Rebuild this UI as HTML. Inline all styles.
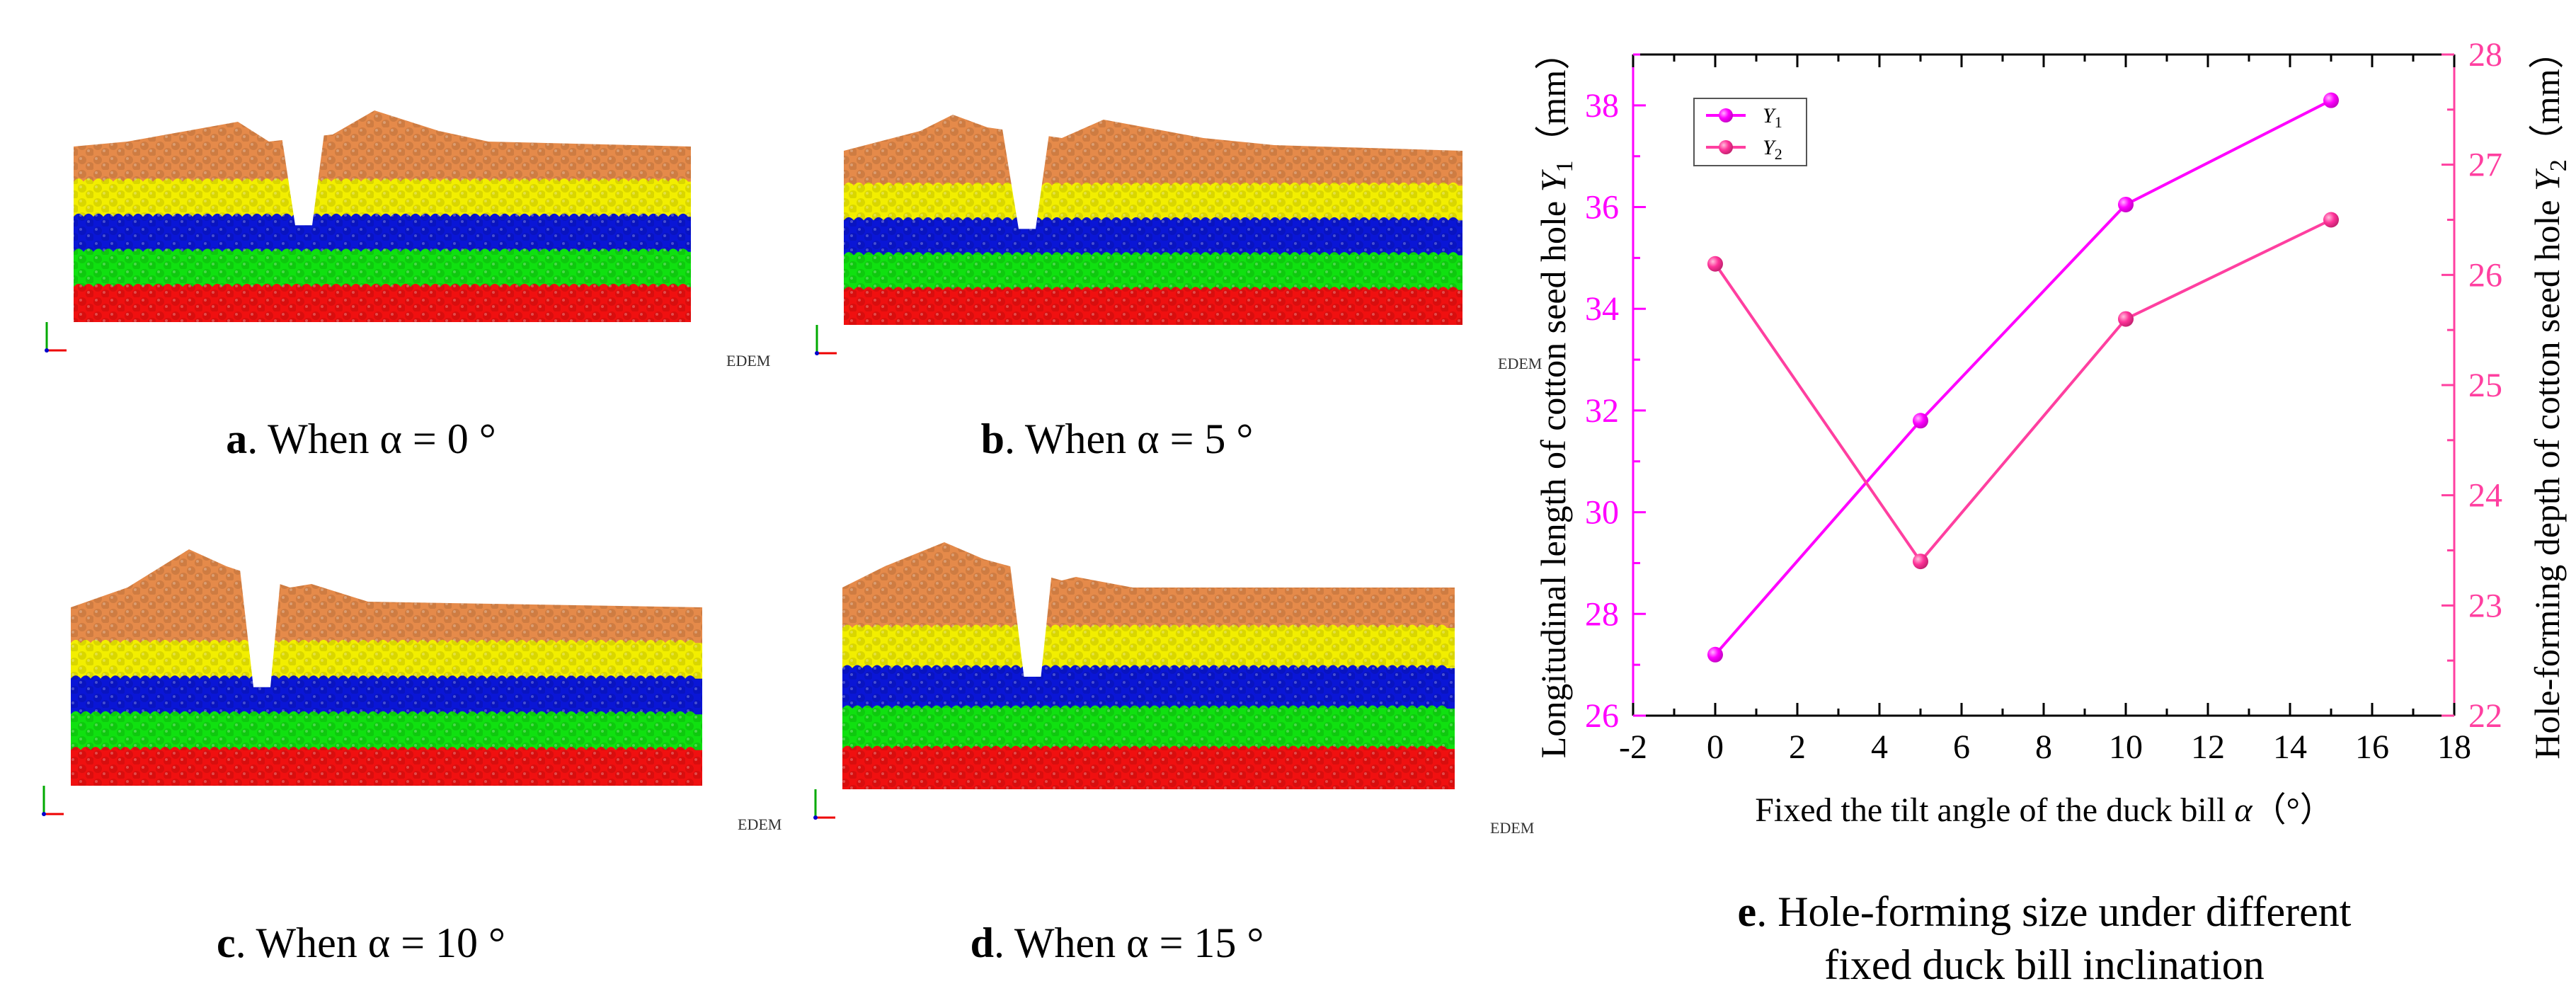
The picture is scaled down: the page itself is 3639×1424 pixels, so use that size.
<!DOCTYPE html>
<html><head><meta charset="utf-8"><style>
html,body{margin:0;padding:0;background:#fff;}
svg{display:block;font-family:"Liberation Serif",serif;}
svg text{font-family:"Liberation Serif",serif !important;}
</style></head><body>
<svg id="root" width="3639" height="1424" viewBox="0 0 3639 1424" xmlns="http://www.w3.org/2000/svg" font-family="Liberation Serif, serif">
<defs>
<pattern id="grain" width="22" height="20" patternUnits="userSpaceOnUse">
<circle cx="6" cy="6" r="6" fill="#000" opacity="0.10"/>
<circle cx="17" cy="15" r="6" fill="#000" opacity="0.10"/>
<circle cx="4" cy="4" r="2" fill="#fff" opacity="0.25"/>
<circle cx="15" cy="13" r="2" fill="#fff" opacity="0.25"/>
</pattern>
<radialGradient id="ball1" cx="0.35" cy="0.35" r="0.7"><stop offset="0" stop-color="#ffb3ff"/><stop offset="0.5" stop-color="#ff00ff"/><stop offset="1" stop-color="#c000c0"/></radialGradient>
<radialGradient id="ball2" cx="0.35" cy="0.35" r="0.7"><stop offset="0" stop-color="#ffc0dd"/><stop offset="0.5" stop-color="#ff3399"/><stop offset="1" stop-color="#c0206e"/></radialGradient>
</defs>
<g id="panels"></g>
<g id="chart"></g>
<text x="2888" y="1308" font-size="60" text-anchor="middle" font-family="Liberation Serif, serif"><tspan font-weight="bold">e</tspan>. Hole-forming  size under different</text>
<text x="2888" y="1383" font-size="60" text-anchor="middle" font-family="Liberation Serif, serif">fixed duck bill inclination</text>
</svg>
<script>
const NS='http://www.w3.org/2000/svg';
function mk(tag,attrs,parent,txt){const e=document.createElementNS(NS,tag);for(const k in attrs)e.setAttribute(k,attrs[k]);if(tag==='text')e.setAttribute('font-family','Liberation Serif, serif');if(txt!==undefined)e.textContent=txt;parent.appendChild(e);return e;}

// ---------- simulation panels ----------
const panelsG=document.getElementById('panels');
const panels=[
 {id:'a',label:'0',x0:104,x1:976,top:207,bot:455,hole:[388,466],peaks:[[180,200],[336,172],[380,200],[470,190],[529,156],[620,185],[690,200]],capX:510,capY:640},
 {id:'b',label:'5',x0:1192,x1:2066,top:213,bot:459,hole:[1408,1490],peaks:[[1300,185],[1346,162],[1395,180],[1500,195],[1559,169],[1700,195],[1800,205]],capX:1578,capY:640},
 {id:'c',label:'10',x0:100,x1:992,top:858,bot:1110,hole:[336,400],peaks:[[180,830],[267,776],[320,800],[410,830],[440,825],[520,850]],capX:510,capY:1352},
 {id:'d',label:'15',x0:1190,x1:2055,top:830,bot:1115,hole:[1421,1492],peaks:[[1250,800],[1334,766],[1390,790],[1500,820],[1520,815],[1600,830]],capX:1578,capY:1352}
];
const layerColors=['#e58a4a','#f2ee00','#0a16d6','#10e010','#f01010'];
panels.forEach(p=>{
 const g=mk('g',{},panelsG);
 
 
 const h=(p.bot-p.top)/5;
 const topPts=[[p.x0,p.top]].concat(p.peaks.slice().sort((a,b)=>a[0]-b[0])).concat([[p.x1,p.top]]);
 const poly=[[p.x0,p.bot]].concat(topPts).concat([[p.x1,p.bot]]);
 mk('polygon',{points:poly.map(q=>q.join(',')).join(' '),fill:layerColors[0]},g);
 for(let i=1;i<5;i++){
  const y=p.top+h*i;
  let d='M'+p.x0+','+p.bot+' L'+p.x0+','+y;
  let x=p.x0;
  for(;x+14<=p.x1;x+=14){d+=' Q'+(x+7)+','+(y-9)+' '+(x+14)+','+y;}
  d+=' L'+p.x1+','+y+' L'+p.x1+','+p.bot+' Z';
  mk('path',{d:d,fill:layerColors[i]},g);
 }
 mk('polygon',{points:poly.map(q=>q.join(',')).join(' '),fill:'url(#grain)'},g);
 const hx0=p.hole[0],hx1=p.hole[1],hy=p.top+h*2+12;
 const hole=mk('polygon',{points:`${hx0},${p.top-80} ${hx1},${p.top-80} ${(hx0+hx1)/2+14},${hy} ${(hx0+hx1)/2-10},${hy}`,fill:'#fff'},g);
 
 
 const ax=p.x0-38, ay=p.bot+40;
 mk('line',{x1:ax,y1:ay,x2:ax,y2:ay-40,stroke:'#0a0',"stroke-width":3},g);
 mk('line',{x1:ax,y1:ay,x2:ax+28,y2:ay,stroke:'#e00',"stroke-width":3},g);
 mk('circle',{cx:ax,cy:ay,r:3,fill:'#00c'},g);
 const ed=mk('text',{x:p.x1+50,y:p.bot+62,"font-size":22,fill:'#333'},g,'EDEM');
 
 
 const cap=mk('text',{x:p.capX,y:p.capY,"font-size":60,"text-anchor":"middle"},g);
 
 
 mk('tspan',{"font-weight":"bold"},cap,p.id);
 mk('tspan',{},cap,'. When α = '+p.label+' °');
});

// ---------- chart data ----------
const xValues=[0,5,10,15];
const y1Values=[27.2,31.8,36.05,38.1];
const y2Values=[26.1,23.4,25.6,26.5];
const xTicks=[-2,0,2,4,6,8,10,12,14,16,18];
const y1Ticks=[26,28,30,32,34,36,38];
const y2Ticks=[22,23,24,25,26,27,28];

const L=2307,R=3467,T=77,B=1011;
const X=v=>L+(v+2)/20*(R-L);
const Y1=v=>B-(v-26)/13*(B-T);
const Y2=v=>B-(v-22)/6*(B-T);
const C1='#ff00ff',C2='#ff3fa0';
const ch=document.getElementById('chart');

mk('line',{x1:L,y1:T,x2:R,y2:T,stroke:'#000',"stroke-width":3},ch);
mk('line',{x1:L,y1:B,x2:R,y2:B,stroke:'#000',"stroke-width":3},ch);
const la=mk('line',{x1:L,y1:T,x2:L,y2:B,stroke:C1,"stroke-width":3},ch);


const ra=mk('line',{x1:R,y1:T,x2:R,y2:B,stroke:C2,"stroke-width":3},ch);


for(let v=-2;v<=18;v+=1){
 const len=(v%2===0)?18:10;
 mk('line',{x1:X(v),y1:B,x2:X(v),y2:B-len,stroke:'#000',"stroke-width":3},ch);
 mk('line',{x1:X(v),y1:T,x2:X(v),y2:T+len,stroke:'#000',"stroke-width":3},ch);
}
xTicks.forEach(v=>{
 const t=mk('text',{x:X(v),y:B+60,"font-size":48,"text-anchor":"middle"},ch,String(v));
 
 
});
for(let v=26;v<=39;v+=1){
 const len=(v%2===0)?18:10;
 mk('line',{x1:L,y1:Y1(v),x2:L+len,y2:Y1(v),stroke:C1,"stroke-width":3},ch);
}
y1Ticks.forEach(v=>{
 const t=mk('text',{x:L-20,y:Y1(v)+16,"font-size":48,"text-anchor":"end",fill:C1},ch,String(v));
 
 
});
for(let v=22;v<=28;v+=0.5){
 const len=(v%1===0)?18:10;
 mk('line',{x1:R,y1:Y2(v),x2:R-len,y2:Y2(v),stroke:C2,"stroke-width":3},ch);
}
y2Ticks.forEach(v=>{
 const t=mk('text',{x:R+20,y:Y2(v)+16,"font-size":48,fill:C2},ch,String(v));
 
 
});
const xt=mk('text',{x:2888,y:1160,"font-size":48,"text-anchor":"middle"},ch);


mk('tspan',{},xt,'Fixed the tilt angle of the duck bill ');
mk('tspan',{"font-style":"italic"},xt,'α');
mk('tspan',{},xt,'（°）');
const yt=mk('text',{transform:'translate(2211,560) rotate(-90)',"font-size":50,"text-anchor":"middle"},ch);


mk('tspan',{},yt,'Longitudinal length of cotton seed hole ');
mk('tspan',{"font-style":"italic"},yt,'Y');
mk('tspan',{"font-size":34,dy:10},yt,'1');
mk('tspan',{dy:-10},yt,'（mm）');
const yt2=mk('text',{transform:'translate(3615,560) rotate(-90)',"font-size":50,"text-anchor":"middle"},ch);


mk('tspan',{},yt2,'Hole-forming depth of cotton seed hole ');
mk('tspan',{"font-style":"italic"},yt2,'Y');
mk('tspan',{"font-size":34,dy:10},yt2,'2');
mk('tspan',{dy:-10},yt2,'（mm）');

function series(vals,yf,col,grad,name){
 const g=mk('g',{},ch);
 
 
 mk('polyline',{points:xValues.map((x,i)=>X(x)+','+yf(vals[i])).join(' '),fill:'none',stroke:col,"stroke-width":4},g);
 xValues.forEach((x,i)=>{
  const c=mk('circle',{cx:X(x),cy:yf(vals[i]),r:11,fill:'url(#'+grad+')'},g);
  
  
 });
}
series(y1Values,Y1,C1,'ball1','series-y1');
series(y2Values,Y2,C2,'ball2','series-y2');

const lg=mk('g',{},ch);


mk('rect',{x:2393,y:139,width:159,height:95,fill:'#fff',stroke:'#555',"stroke-width":2},lg);
[[163,C1,'ball1','1'],[208,C2,'ball2','2']].forEach(e=>{
 const eg=mk('g',{},lg);
 
 
 mk('line',{x1:2410,y1:e[0],x2:2466,y2:e[0],stroke:e[1],"stroke-width":4},eg);
 mk('circle',{cx:2438,cy:e[0],r:10,fill:'url(#'+e[2]+')'},eg);
 const t=mk('text',{x:2490,y:e[0]+10,"font-size":30,"font-style":"italic"},eg,'Y');
 mk('tspan',{"font-size":22,dy:7,"font-style":"normal"},t,e[3]);
});
</script>
</body></html>
